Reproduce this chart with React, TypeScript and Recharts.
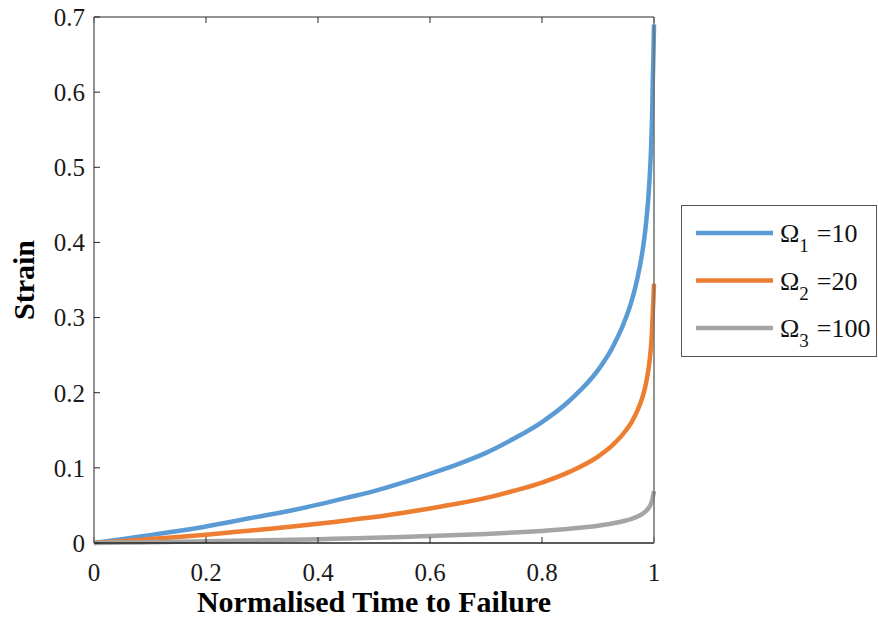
import React from 'react';
import { LineChart, Line, XAxis, YAxis } from 'recharts';

// Normalised time to failure (x)
const timeValues = [0, 0.05, 0.1, 0.15, 0.2, 0.25, 0.3, 0.35, 0.4, 0.45, 0.5, 0.55, 0.6, 0.65, 0.7, 0.75, 0.8, 0.85, 0.9, 0.925, 0.95, 0.96, 0.97, 0.98, 0.985, 0.99, 0.993, 0.995, 0.997, 0.998, 0.999, 1];

// Strain series
const strainOmega10 = [0, 0.005, 0.0105, 0.016, 0.022, 0.029, 0.036, 0.043, 0.051, 0.06, 0.069, 0.08, 0.092, 0.105, 0.12, 0.139, 0.161, 0.19, 0.23, 0.259, 0.3, 0.322, 0.351, 0.391, 0.42, 0.461, 0.497, 0.53, 0.581, 0.621, 0.65, 0.69];
const strainOmega20 = [0, 0.0025, 0.0053, 0.008, 0.011, 0.0145, 0.018, 0.0215, 0.0255, 0.03, 0.0345, 0.04, 0.046, 0.0525, 0.06, 0.0695, 0.0805, 0.095, 0.115, 0.1295, 0.15, 0.161, 0.1755, 0.1955, 0.21, 0.2305, 0.2485, 0.265, 0.2905, 0.31, 0.325, 0.345];
const strainOmega100 = [0, 0.0005, 0.001, 0.0016, 0.0022, 0.0029, 0.0036, 0.0043, 0.0051, 0.006, 0.0069, 0.008, 0.0092, 0.0105, 0.012, 0.0139, 0.0161, 0.019, 0.023, 0.0259, 0.03, 0.0322, 0.0351, 0.0391, 0.042, 0.0461, 0.0497, 0.053, 0.0581, 0.0621, 0.065, 0.069];

const seriesKeys = ['s1', 's2', 's3'];
const seriesSubscripts = ['1', '2', '3'];
const seriesOmegas = ['10', '20', '100'];
const seriesColors = ['#5B9BD5', '#ED7D31', '#A5A5A5'];

const xTicks = [0, 0.2, 0.4, 0.6, 0.8, 1];
const yTicks = [0, 0.1, 0.2, 0.3, 0.4, 0.5, 0.6, 0.7];

const xTitle = 'Normalised Time to Failure';
const yTitle = 'Strain';

const data = timeValues.map((t, i) => ({
  t,
  s1: strainOmega10[i],
  s2: strainOmega20[i],
  s3: strainOmega100[i],
}));

const FONT = '"Liberation Serif", "Times New Roman", serif';
const tickStyle = { fontSize: 25, fill: '#1a1a1a', fontFamily: FONT, style: { fontFamily: FONT } };
const fmt = (v: number) => String(v);

function LegendBox() {
  return (
    <div style={{ position: 'absolute', left: 681, top: 205, width: 196, height: 152, boxSizing: 'border-box', border: '1.5px solid #555', background: '#fff', fontFamily: FONT }}>
      <svg width={194} height={149} style={{ display: 'block', fontFamily: FONT }}>
        {seriesKeys.map((k, i) => {
          const cy = 27 + i * 47.5;
          return (
            <g key={k}>
              <line x1={14} x2={91} y1={cy} y2={cy} stroke={seriesColors[i]} strokeWidth={4.5} />
              <text x={98} y={cy + 9} style={{ fontFamily: FONT, fontSize: 26 }} fill="#111">
                Ω
                <tspan style={{ fontSize: 19 }} dy={10}>{seriesSubscripts[i]}</tspan>
                <tspan dy={-10} dx={8}>={seriesOmegas[i]}</tspan>
              </text>
            </g>
          );
        })}
      </svg>
    </div>
  );
}

export default function App() {
  return (
    <div style={{ position: 'absolute', left: 0, top: 0, width: 878, height: 618, background: '#fff', fontFamily: FONT }}>
      <LineChart width={878} height={618} data={data} margin={{ top: 16, right: 223, bottom: 0, left: 0 }} style={{ fontFamily: FONT }}>
        <XAxis
          xAxisId="b"
          dataKey="t"
          type="number"
          domain={[0, 1]}
          ticks={xTicks}
          tickFormatter={fmt}
          height={75}
          tickSize={-6}
          tickMargin={26}
          interval={0}
          tick={tickStyle}
          axisLine={{ stroke: '#262626', strokeWidth: 1.5 }}
          tickLine={{ stroke: '#262626' }}
          label={{ value: xTitle, position: 'insideBottom', offset: 6, style: { fontSize: 30, fontWeight: 'bold', fontFamily: FONT, fill: '#000' } }}
        />
        <XAxis
          xAxisId="t"
          orientation="top"
          dataKey="t"
          type="number"
          domain={[0, 1]}
          ticks={xTicks}
          tickFormatter={() => ''}
          height={1}
          tickSize={-6}
          interval={0}
          axisLine={{ stroke: '#6f6f6f', strokeWidth: 1.5 }}
          tickLine={{ stroke: '#262626' }}
        />
        <YAxis
          yAxisId="l"
          type="number"
          domain={[0, 0.7]}
          ticks={yTicks}
          tickFormatter={fmt}
          width={94}
          tickSize={-6}
          tickMargin={15}
          interval={0}
          tick={tickStyle}
          axisLine={{ stroke: '#6f6f6f', strokeWidth: 1.5 }}
          tickLine={{ stroke: '#262626' }}
          label={{ value: yTitle, angle: -90, position: 'insideLeft', offset: 23, style: { fontSize: 30, fontWeight: 'bold', fontFamily: FONT, fill: '#000', textAnchor: 'middle' } }}
        />
        <YAxis
          yAxisId="r"
          orientation="right"
          type="number"
          domain={[0, 0.7]}
          ticks={yTicks}
          tickFormatter={() => ''}
          width={1}
          tickSize={-6}
          interval={0}
          axisLine={{ stroke: '#6f6f6f', strokeWidth: 1.5 }}
          tickLine={{ stroke: '#262626' }}
        />
        {seriesKeys.map((k, i) => (
          <Line
            key={k}
            xAxisId="b"
            yAxisId="l"
            dataKey={k}
            type="monotone"
            stroke={seriesColors[i]}
            strokeWidth={4.5}
            dot={false}
            isAnimationActive={false}
          />
        ))}
      </LineChart>
      <LegendBox />
    </div>
  );
}
